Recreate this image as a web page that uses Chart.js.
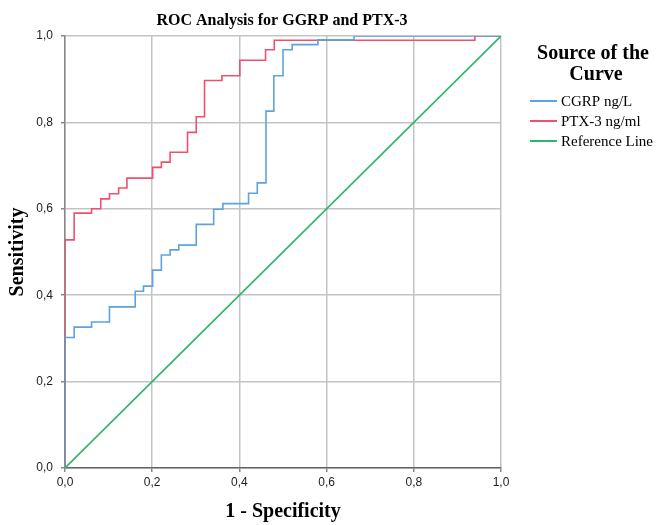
<!DOCTYPE html>
<html>
<head>
<meta charset="utf-8">
<script src="https://cdn.jsdelivr.net/npm/chart.js@4"></script>
<style>
  html, body { margin: 0; padding: 0; background: #fff; }
  #wrap { width: 659px; height: 525px; }
</style>
</head>
<body>
<div id="wrap"><canvas id="roc" width="659" height="525"></canvas></div>
<script>
// ROC staircase vertices (1 - specificity, sensitivity)
const cgrpFpr = [0, 0, 0.021, 0.021, 0.061, 0.061, 0.102, 0.102, 0.161, 0.161, 0.180, 0.180, 0.201, 0.201, 0.221, 0.221, 0.241, 0.241, 0.261, 0.261, 0.301, 0.301, 0.341, 0.341, 0.362, 0.362, 0.421, 0.421, 0.441, 0.441, 0.461, 0.461, 0.479, 0.479, 0.500, 0.500, 0.521, 0.521, 0.580, 0.580, 0.663, 0.663, 1];
const cgrpTpr = [0, 0.302, 0.302, 0.326, 0.326, 0.338, 0.338, 0.373, 0.373, 0.409, 0.409, 0.421, 0.421, 0.458, 0.458, 0.493, 0.493, 0.505, 0.505, 0.516, 0.516, 0.564, 0.564, 0.599, 0.599, 0.612, 0.612, 0.636, 0.636, 0.660, 0.660, 0.826, 0.826, 0.908, 0.908, 0.968, 0.968, 0.980, 0.980, 0.991, 0.991, 1, 1];

const ptxFpr = [0, 0, 0.021, 0.021, 0.061, 0.061, 0.082, 0.082, 0.102, 0.102, 0.123, 0.123, 0.142, 0.142, 0.201, 0.201, 0.221, 0.221, 0.241, 0.241, 0.281, 0.281, 0.301, 0.301, 0.320, 0.320, 0.360, 0.360, 0.401, 0.401, 0.460, 0.460, 0.480, 0.480, 0.940, 0.940, 1];
const ptxTpr = [0, 0.528, 0.528, 0.590, 0.590, 0.600, 0.600, 0.623, 0.623, 0.635, 0.635, 0.648, 0.648, 0.671, 0.671, 0.696, 0.696, 0.708, 0.708, 0.731, 0.731, 0.777, 0.777, 0.813, 0.813, 0.897, 0.897, 0.908, 0.908, 0.944, 0.944, 0.968, 0.968, 0.990, 0.990, 1, 1];

const refFpr = [0, 1];
const refTpr = [0, 1];

const seriesLabels = ["CGRP ng/L", "PTX-3 ng/ml", "Reference Line"];
const seriesColors = ["#5ea3dd", "#f0506c", "#2fb56c"];
const axisTicks = [0, 0.2, 0.4, 0.6, 0.8, 1.0];

const toXY = (xs, ys) => xs.map((x, i) => ({ x, y: ys[i] }));
const fmt = (v) => v.toFixed(1).replace(".", ",");
const SERIF = "'Liberation Serif', 'DejaVu Serif', serif";

// title + legend drawn on the canvas next to the plot
const sideText = {
  id: "sideText",
  afterDraw(chart) {
    const ctx = chart.ctx;
    ctx.save();
    ctx.fillStyle = "#000";
    ctx.textBaseline = "middle";
    ctx.textAlign = "center";
    ctx.font = "bold 16px " + SERIF;
    ctx.fillText("ROC Analysis for GGRP and PTX-3", 282, 21);

    ctx.font = "bold 20px " + SERIF;
    ctx.fillText("Source of the", 593, 54);
    ctx.fillText("Curve", 596, 75);

    ctx.textAlign = "left";
    ctx.font = "15px " + SERIF;
    seriesLabels.forEach((lab, i) => {
      const y = 101 + i * 20;
      ctx.strokeStyle = seriesColors[i];
      ctx.lineWidth = 2;
      ctx.beginPath();
      ctx.moveTo(530, y);
      ctx.lineTo(557, y);
      ctx.stroke();
      ctx.fillText(lab, 561, y + 1);
    });
    ctx.restore();
  },
};

new Chart(document.getElementById("roc"), {
  type: "line",
  data: {
    datasets: [
      { label: seriesLabels[2], data: toXY(refFpr, refTpr), borderColor: seriesColors[2] },
      { label: seriesLabels[0], data: toXY(cgrpFpr, cgrpTpr), borderColor: seriesColors[0] },
      { label: seriesLabels[1], data: toXY(ptxFpr, ptxTpr), borderColor: seriesColors[1] },
    ],
  },
  options: {
    responsive: false,
    animation: false,
    events: [],
    layout: { padding: { left: 0, top: 36, right: 158, bottom: 0 } },
    elements: {
      point: { radius: 0 },
      line: { borderWidth: 1.6, tension: 0, fill: false },
    },
    plugins: { legend: { display: false }, title: { display: false }, tooltip: { enabled: false } },
    scales: {
      x: {
        type: "linear",
        min: 0,
        max: 1,
        afterFit: (s) => { s.height = 57; },
        afterBuildTicks: (s) => { s.ticks = axisTicks.map((v) => ({ value: v })); },
        ticks: {
          callback: fmt,
          color: "#222",
          font: { family: "'Liberation Sans', Arial, sans-serif", size: 12 },
          padding: 3,
          maxRotation: 0,
        },
        grid: { color: "#c4c4c4", lineWidth: 1.5, tickLength: 4, tickColor: "#888" },
        border: { color: "#666", width: 1.5 },
        title: {
          display: true,
          text: "1 - Specificity",
          color: "#000",
          font: { family: SERIF, size: 20, weight: "bold" },
          padding: { top: 0, bottom: 1 },
        },
      },
      y: {
        type: "linear",
        min: 0,
        max: 1,
        afterFit: (s) => { s.width = 65; },
        afterBuildTicks: (s) => { s.ticks = axisTicks.map((v) => ({ value: v })); },
        ticks: {
          callback: fmt,
          color: "#222",
          font: { family: "'Liberation Sans', Arial, sans-serif", size: 12 },
          padding: 8,
        },
        grid: { color: "#c4c4c4", lineWidth: 1.5, tickLength: 4, tickColor: "#888" },
        border: { color: "#888", width: 1.5 },
        title: {
          display: true,
          text: "Sensitivity",
          color: "#000",
          font: { family: SERIF, size: 20, weight: "bold" },
          padding: { top: 6, bottom: 0 },
        },
      },
    },
  },
  plugins: [sideText],
});
</script>
</body>
</html>
